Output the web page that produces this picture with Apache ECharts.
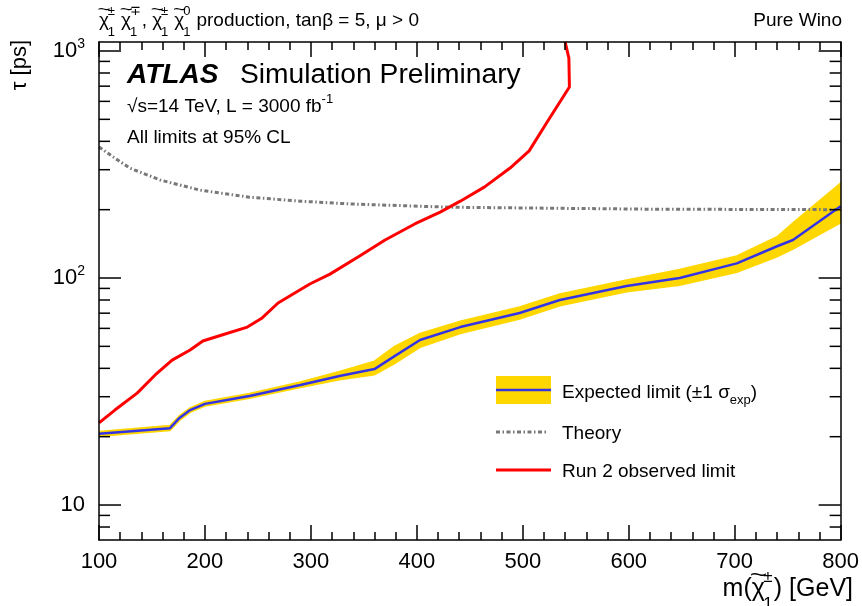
<!DOCTYPE html>
<html>
<head>
<meta charset="utf-8">
<script src="https://cdn.jsdelivr.net/npm/echarts@6/dist/echarts.min.js"></script>
<style>
  html, body { margin: 0; padding: 0; background: #fff; }
  #chart { width: 862px; height: 606px; }
</style>
</head>
<body>
<div id="chart"></div>
<script>
// Run 2 observed lifetime limit, tau [ps] vs chargino mass [GeV]
const massObs = [100, 115, 136, 153, 169, 186, 198, 216, 240, 254, 269, 299, 318, 346, 370, 398, 422, 441, 464, 488, 506, 523, 544, 543.5, 540];
const tauObs  = [23.0, 26.2, 31.1, 37.4, 43.5, 48.2, 52.8, 56.1, 60.8, 66.7, 77.6, 94.1, 104, 125, 147, 173, 195, 218, 252, 305, 363, 487, 694, 931, 1095];

// Pure-wino theory prediction
const massTheory = [100, 114, 129, 158, 195, 242, 290, 337, 431, 525, 620, 800];
const tauTheory  = [378, 340, 305, 270, 244, 227, 218, 212, 205, 203, 201, 200];

// Expected limit with its +-1 sigma band
const massExp  = [100, 167, 176, 186, 200, 242, 290, 327, 360, 379, 403, 441, 497, 535, 598, 648, 702, 740, 755, 800];
const tauExp   = [20.6, 21.8, 24.2, 26.2, 27.9, 30.2, 33.8, 37.0, 39.7, 45.3, 53.3, 60.8, 70.1, 80.0, 92.2, 100, 116, 138, 147, 207];
const tauExpHi = [21.1, 22.4, 24.8, 26.8, 28.6, 31.0, 34.8, 38.8, 43.0, 50.0, 57.0, 64.5, 74.5, 85, 98, 109, 125, 152, 175, 262];
const tauExpLo = [20.1, 21.3, 23.6, 25.6, 27.3, 29.5, 32.9, 35.6, 37.5, 42.0, 49.5, 57.0, 66.0, 75.5, 87, 93, 106, 124, 134, 175];

// Axis ranges and tick values
const massRange = [100, 800];
const massStep = 100;
const tauRange = [7.013, 1095.6];
const tauMajorTicks = [10, 100, 1000];
const tauMinorTicks = [8, 9, 20, 30, 40, 50, 60, 70, 80, 90, 200, 300, 400, 500, 600, 700, 800, 900];
const tauExponentLabels = { 1: '', 2: '2', 3: '3' };

const FONT = '"Liberation Sans", Arial, Helvetica, sans-serif';
const YELLOW = '#ffd700';
const BLUE = '#3434e6';
const RED = '#ff0000';
const GREY = '#787878';

const measureCtx = document.createElement('canvas').getContext('2d');
function textWidth(t, fs, weight, style) {
  measureCtx.font = (style || 'normal') + ' ' + (weight || 'normal') + ' ' + fs + 'px ' + FONT;
  return measureCtx.measureText(t).width;
}

// Text placed by its baseline
function txt(t, x, baseline, fs, opt) {
  opt = opt || {};
  return {
    type: 'text', x: x, y: baseline - 0.35 * fs, silent: true,
    scaleX: opt.sx || 1, scaleY: opt.sy || 1,
    style: {
      text: t, fontSize: fs, fontFamily: FONT,
      fontWeight: opt.weight || 'normal', fontStyle: opt.style || 'normal',
      fill: '#000', align: opt.align || 'left', verticalAlign: 'middle'
    }
  };
}

// A run of text with tilde-chi symbols carrying stacked super/subscripts
function textRun(x0, baseline, fs, tokens, align) {
  const sfs = Math.round(fs * 0.68);
  const items = [];
  let x = 0;
  tokens.forEach(function (tok) {
    if (typeof tok === 'string') {
      items.push({ t: tok, dx: x, by: 0, fs: fs });
      x += textWidth(tok, fs);
    } else if (tok.chi) {
      const wc = textWidth('χ', fs);
      items.push({ t: 'χ', dx: x, by: 0, fs: fs });
      items.push({ t: '~', dx: x + wc * 0.52, by: -0.56 * fs, fs: fs * 0.85, center: true, sx: 1.4 });
      const sx = x + wc - 0.06 * fs;
      items.push({ t: tok.sup, dx: sx, by: -0.6 * fs, fs: sfs });
      items.push({ t: tok.sub, dx: sx, by: 0.5 * fs, fs: sfs });
      x = sx + Math.max(textWidth(tok.sup, sfs), textWidth(tok.sub, sfs)) + 0.04 * fs;
    } else if (tok.sup) {
      items.push({ t: tok.sup, dx: x, by: -0.45 * fs, fs: sfs });
      x += textWidth(tok.sup, sfs);
    } else if (tok.sub) {
      items.push({ t: tok.sub, dx: x, by: 0.3 * fs, fs: sfs });
      x += textWidth(tok.sub, sfs);
    }
  });
  const start = align === 'right' ? x0 - x : x0;
  return items.map(function (it) {
    return txt(it.t, start + it.dx, baseline + it.by, it.fs, { align: it.center ? 'center' : 'left', sx: it.sx });
  });
}

const pairs = (xs, ys) => xs.map((x, i) => [x, ys[i]]);

const frameLine = { show: true, lineStyle: { color: '#000', width: 1.5 } };

function massAxis(pos) {
  return {
    type: 'value', position: pos, min: massRange[0], max: massRange[1], interval: massStep,
    axisLine: frameLine,
    axisTick: { show: true, inside: true, length: 15, lineStyle: { color: '#000', width: 1.5 } },
    minorTick: { show: true, splitNumber: 5, length: 8, lineStyle: { color: '#000', width: 1.5 } },
    axisLabel: pos === 'bottom'
      ? { show: true, color: '#000', fontSize: 22, fontFamily: FONT, margin: 11 }
      : { show: false },
    splitLine: { show: false }, minorSplitLine: { show: false }, z: 10
  };
}

function tauAxis(pos) {
  return {
    type: 'log', logBase: 10, position: pos, min: tauRange[0], max: tauRange[1],
    axisLine: frameLine,
    axisTick: { show: false },
    axisLabel: pos === 'left' ? {
      show: true, margin: 14, color: '#000',
      formatter: function (v) {
        const e = Math.round(Math.log10(v));
        if (Math.abs(v - Math.pow(10, e)) > 1e-6 * v) return '';
        const sup = tauExponentLabels[e];
        if (sup === undefined) return '';
        return sup ? '{n|10}{e|' + sup + '}' : '{n|10}';
      },
      rich: {
        n: { fontSize: 22, fontFamily: FONT, color: '#000', lineHeight: 28 },
        e: { fontSize: 14, fontFamily: FONT, color: '#000', verticalAlign: 'top', lineHeight: 14 }
      }
    } : { show: false },
    splitLine: { show: false }, z: 10
  };
}

const graphics = [].concat(
  textRun(99, 27, 19, [
    { chi: true, sup: '±', sub: '1' }, ' ',
    { chi: true, sup: '∓', sub: '1' }, ', ',
    { chi: true, sup: '±', sub: '1' }, ' ',
    { chi: true, sup: '0', sub: '1' }, ' ',
    'production, tanβ = 5, μ > 0'
  ]),
  [txt('Pure Wino', 842, 27, 19, { align: 'right' })],
  [txt('ATLAS', 127, 85, 27, { weight: 'bold', style: 'italic', sx: 1.04 })],
  [txt('Simulation Preliminary', 240, 85, 27, { sx: 1.045 })],
  textRun(127, 113, 19, ['√s=14 TeV, L = 3000 fb', { sup: '-1' }]),
  [txt('All limits at 95% CL', 127, 144, 19)],
  textRun(853, 598, 25, ['m(', { chi: true, sup: '±', sub: '1' }, ') [GeV]'], 'right'),
  [{
    type: 'text', x: 20, y: 40, rotation: Math.PI / 2, silent: true,
    style: { text: 'τ [ps]', fontSize: 22, fontFamily: FONT, fill: '#000', align: 'right', verticalAlign: 'middle' }
  }],
  // legend
  [
    { type: 'rect', shape: { x: 496, y: 376, width: 55, height: 28 }, style: { fill: YELLOW }, silent: true },
    { type: 'line', shape: { x1: 496, y1: 390, x2: 551, y2: 390 }, style: { stroke: BLUE, lineWidth: 2.5 }, silent: true },
    { type: 'line', shape: { x1: 496, y1: 432, x2: 548, y2: 432 }, style: { stroke: GREY, lineWidth: 3, lineDash: [4, 2.5, 1.5, 2.5] }, silent: true },
    { type: 'line', shape: { x1: 496, y1: 470, x2: 551, y2: 470 }, style: { stroke: RED, lineWidth: 3 }, silent: true }
  ],
  textRun(562, 399, 19, ['Expected limit (±1 σ', { sub: 'exp' }, ')']),
  [txt('Theory', 562, 440, 19)],
  [txt('Run 2 observed limit', 562, 478, 19)]
);

const chart = echarts.init(document.getElementById('chart'), null, { renderer: 'canvas' });
chart.setOption({
  animation: false,
  backgroundColor: '#fff',
  grid: { left: 99, top: 42, width: 743, height: 498, containLabel: false },
  xAxis: [massAxis('bottom'), massAxis('top')],
  yAxis: [tauAxis('left'), tauAxis('right')],
  series: [
    {
      name: 'band', type: 'custom', xAxisIndex: 0, yAxisIndex: 0, z: 1, silent: true, clip: true,
      data: massExp.map((m, i) => [m, tauExpLo[i], tauExpHi[i]]),
      encode: { x: 0, y: [1, 2] },
      renderItem: function (params, api) {
        if (params.dataIndex !== 0) return null;
        const pts = [];
        for (let i = 0; i < massExp.length; i++) pts.push(api.coord([massExp[i], tauExpHi[i]]));
        for (let i = massExp.length - 1; i >= 0; i--) pts.push(api.coord([massExp[i], tauExpLo[i]]));
        return { type: 'polygon', shape: { points: pts }, style: { fill: YELLOW, stroke: YELLOW, lineWidth: 1.5 } };
      }
    },
    {
      name: 'Theory', type: 'line', xAxisIndex: 0, yAxisIndex: 0, z: 3, symbol: 'none', smooth: false,
      data: pairs(massTheory, tauTheory),
      lineStyle: { color: GREY, width: 3, type: [4, 2.5, 1.5, 2.5] }
    },
    {
      name: 'Expected limit', type: 'line', xAxisIndex: 0, yAxisIndex: 0, z: 4, symbol: 'none',
      data: pairs(massExp, tauExp),
      lineStyle: { color: BLUE, width: 2.5 }
    },
    {
      name: 'Run 2 observed limit', type: 'line', xAxisIndex: 0, yAxisIndex: 0, z: 5, symbol: 'none',
      data: pairs(massObs, tauObs),
      lineStyle: { color: RED, width: 3 }
    },
    {
      // log-axis ticks on both vertical frame edges
      name: 'tau ticks', type: 'custom', xAxisIndex: 0, yAxisIndex: 0, z: 11, silent: true, clip: false,
      data: tauMajorTicks.concat(tauMinorTicks).map(v => [massRange[0], v]),
      renderItem: function (params, api) {
        const v = api.value(1);
        const len = tauMajorTicks.indexOf(v) >= 0 ? 22 : 11;
        const pl = api.coord([massRange[0], v]);
        const pr = api.coord([massRange[1], v]);
        return {
          type: 'group', children: [
            { type: 'line', shape: { x1: pl[0], y1: pl[1], x2: pl[0] + len, y2: pl[1] }, style: { stroke: '#000', lineWidth: 1.5 } },
            { type: 'line', shape: { x1: pr[0], y1: pr[1], x2: pr[0] - len, y2: pr[1] }, style: { stroke: '#000', lineWidth: 1.5 } }
          ]
        };
      }
    }
  ],
  graphic: graphics
});
</script>
</body>
</html>
